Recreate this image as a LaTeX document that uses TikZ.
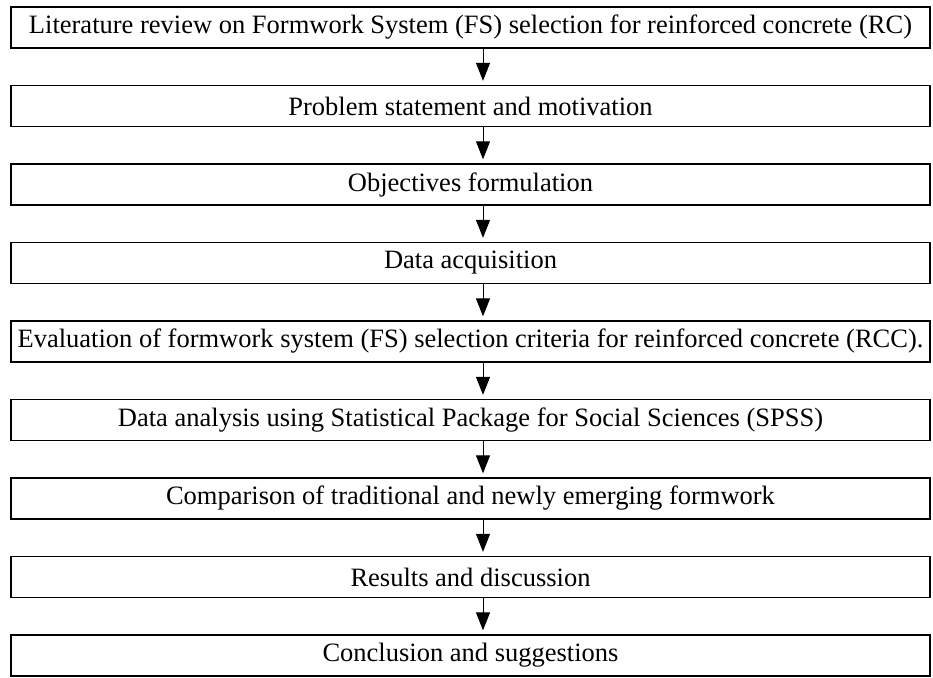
\documentclass[tikz,border=0pt]{standalone}
\usepackage{fontspec}
\setmainfont{Liberation Serif}
\usetikzlibrary{arrows.meta}
\begin{document}
\begin{tikzpicture}[x=1pt,y=1pt,
  stagebox/.style={draw=black, line width=1.3pt, rectangle, minimum width=919pt,
    minimum height=41pt, inner sep=0pt, font=\fontsize{26.5}{30}\selectfont},
  flowarrow/.style={line width=1pt, -{Triangle[width=14pt,length=18pt]}, shorten >=4pt}]
\useasboundingbox (0,0) rectangle (933,-677);
\clip (0,0) rectangle (933,-677);
\node[stagebox] (b1) at (470.5,-27.5) {Literature review on Formwork System (FS) selection for reinforced concrete (RC)};
\node[stagebox] (b2) at (470.5,-106) {Problem statement and motivation};
\node[stagebox] (b3) at (470.5,-184.5) {Objectives formulation};
\node[stagebox] (b4) at (470.5,-263) {Data acquisition};
\node[stagebox] (b5) at (470.5,-341.5) {Evaluation of formwork system (FS) selection criteria for reinforced concrete (RCC).};
\node[stagebox] (b6) at (470.5,-420) {Data analysis using Statistical Package for Social Sciences (SPSS)};
\node[stagebox] (b7) at (470.5,-498.5) {Comparison of traditional and newly emerging formwork};
\node[stagebox] (b8) at (470.5,-577) {Results and discussion};
\node[stagebox] (b9) at (470.5,-655.5) {Conclusion and suggestions};
\coordinate (ax) at (483,0);
\foreach \a/\b in {b1/b2,b2/b3,b3/b4,b4/b5,b5/b6,b6/b7,b7/b8,b8/b9}
  \draw[flowarrow] (\a.south -| ax) -- (\b.north -| ax);
\end{tikzpicture}
\end{document}
